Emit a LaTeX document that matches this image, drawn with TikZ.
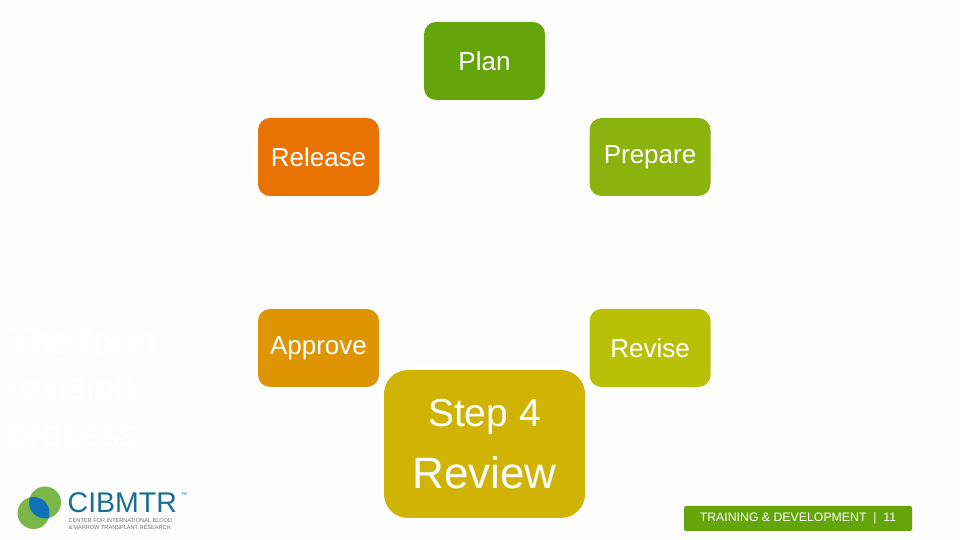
\documentclass[tikz,border=0pt]{standalone}
\usepackage{fontspec}
\setmainfont{Liberation Sans}
\usetikzlibrary{backgrounds}
\definecolor{planc}{RGB}{99,165,11}
\definecolor{preparec}{RGB}{140,178,14}
\definecolor{revisec}{RGB}{185,192,8}
\definecolor{reviewc}{RGB}{207,179,5}
\definecolor{approvec}{RGB}{221,149,3}
\definecolor{releasec}{RGB}{233,115,2}
\definecolor{logogreen}{RGB}{122,182,72}
\definecolor{logoblue}{RGB}{15,114,184}
\definecolor{logotext}{RGB}{26,110,150}
\definecolor{muted}{RGB}{110,112,115}
\definecolor{paper}{RGB}{253,253,253}

\begin{document}
\begin{tikzpicture}[
      x=1pt,y=1pt,
      stepbox/.style={rounded corners=12pt,
        preaction={draw=white,line width=6pt},
        fill=#1,text=white,
        minimum width=121pt,minimum height=78pt,
        inner sep=0pt,align=center,
        font=\fontsize{26}{30}\selectfont},
      bigbox/.style={stepbox=#1,rounded corners=24pt,
        minimum width=201pt,minimum height=148pt},
      ring/.style={line width=0.6pt,looseness=0.91},
      heading/.style={text=white,anchor=base west,inner sep=0pt,
        font=\fontsize{37}{37}\selectfont},
      tiny/.style={text=muted,anchor=base west,inner sep=0pt,
        font=\fontsize{5.6}{6}\selectfont}
    ]
      \useasboundingbox (0,0) rectangle (960,540);
      \fill[paper] (0,0) rectangle (960,540);

      \node[stepbox=planc](plan) at (484.5,479){Plan};
      \node[stepbox=preparec](prepare) at (650,383){Prepare};
      \node[stepbox=revisec](revise) at (650,192){Revise};
      \node[stepbox=approvec](approve) at (318.5,192){Approve};
      \node[stepbox=releasec](release) at (318.5,383){Release};
      \node[bigbox=reviewc](review) at (484.5,96){%
        \fontsize{39}{39}\selectfont Step 4\\[21pt]%
        \fontsize{44}{44}\selectfont Review};

      \begin{scope}[on background layer]
        \draw[ring,draw=planc!70!brown] (plan.center)
          to[out=0,in=120] (prepare.center);
        \draw[ring,draw=preparec!80!brown] (prepare.center)
          to[out=-60,in=60] (revise.center);
        \draw[ring,draw=revisec!80!brown] (revise.center)
          to[out=-120,in=0] (review.center);
        \draw[ring,draw=reviewc!80!brown] (review.center)
          to[out=180,in=-60] (approve.center);
        \draw[ring,draw=approvec!80!brown] (approve.center)
          to[out=120,in=-120] (release.center);
        \draw[ring,draw=releasec!70!brown] (release.center)
          to[out=60,in=180] (plan.center);
      \end{scope}

      % faint title on the left
      \node[heading](title1) at (8,185){The form};
      \node[heading](title2) at (8,140){revision};
      \node[heading](title3) at (8,93){process};

      % logo
      \fill[logogreen] (45,37.5) circle (16);
      \fill[logogreen] (33.5,27) circle (16);
      \begin{scope}
        \clip (45,37.5) circle (16);
        \fill[logoblue] (33.5,27) circle (16);
      \end{scope}
      \node[anchor=base west,inner sep=0pt,text=logotext,
        font=\fontsize{28.5}{30}\selectfont](logoname) at (67.5,27){CIBMTR};
      \node[anchor=base west,inner sep=0pt,text=logotext,
        font=\fontsize{4}{4}\selectfont](logotm) at (181,44){TM};
      \node[tiny](logoline1) at (68.5,17.5){CENTER FOR INTERNATIONAL BLOOD};
      \node[tiny](logoline2) at (68.5,10.5){\&\,MARROW TRANSPLANT RESEARCH};

      % footer
      \node[fill=planc,rounded corners=2pt,text=white,
        minimum width=228pt,minimum height=25pt,inner sep=0pt,
        font=\fontsize{12.3}{14}\selectfont](footer) at (798,21.5)
        {TRAINING \& DEVELOPMENT\ \ |\ \ 11};
    \end{tikzpicture}
\end{document}
